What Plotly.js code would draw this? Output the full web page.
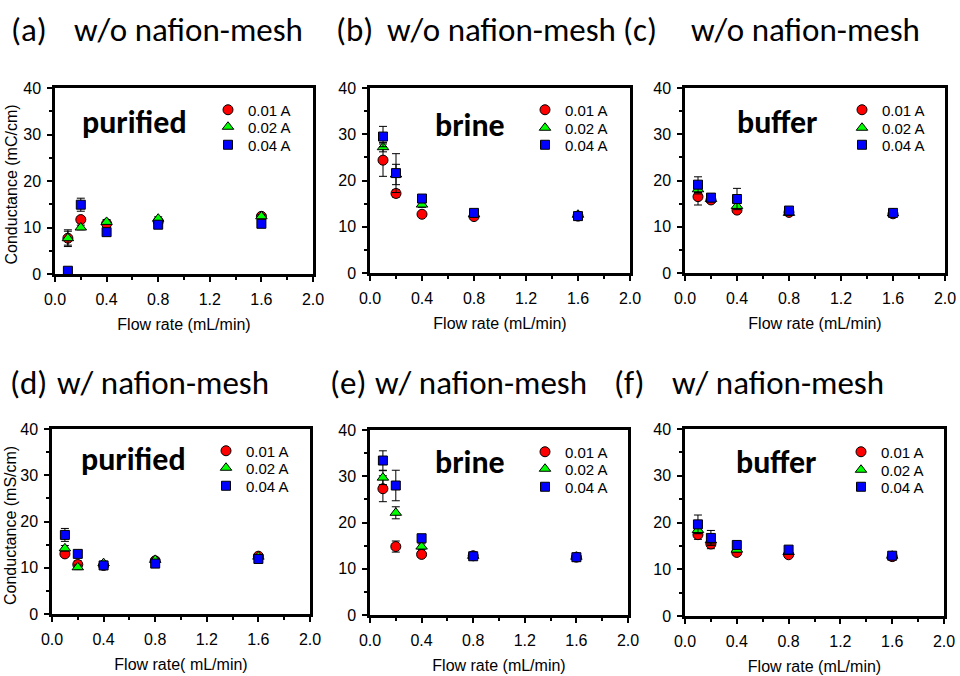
<!DOCTYPE html>
<html>
<head>
<meta charset="utf-8">
<script src="https://cdn.plot.ly/plotly-3.0.1.min.js"></script>
<style>html,body{margin:0;padding:0;background:#fff;}#chart{width:960px;height:676px;}</style>
</head>
<body>
<div id="chart"></div>
<script>
// ---- data ----
const flowRate = [0.1, 0.2, 0.4, 0.8, 1.6];
const currentLabels = ['0.01 A', '0.02 A', '0.04 A'];
const panelHeadings = ['(a)', '(b)', '(c)', '(d)', '(e)', '(f)'];
const panelConditions = ['w/o nafion-mesh', 'w/o nafion-mesh', 'w/o nafion-mesh', 'w/ nafion-mesh', 'w/ nafion-mesh', 'w/ nafion-mesh'];
const panelSolutions = ['purified', 'brine', 'buffer', 'purified', 'brine', 'buffer'];
const xTitles = ['Flow rate (mL/min)', 'Flow rate (mL/min)', 'Flow rate (mL/min)', 'Flow rate( mL/min)', 'Flow rate (mL/min)', 'Flow rate (mL/min)'];
const yTitles = ['Conductance (mC/cm)', '', '', 'Conductance (mS/cm)', '', ''];
const xTickVals = [0.0, 0.4, 0.8, 1.2, 1.6, 2.0];
const xTickText = ['0.0', '0.4', '0.8', '1.2', '1.6', '2.0'];
const yTickVals = [0, 10, 20, 30, 40];

// (a) purified, w/o mesh
const a_001 = [7.7, 11.7, 10.8, 11.3, 12.4];
const a_001_err = [1.8, 0.6, 0.5, 0.4, 0.4];
const a_002 = [7.7, 10.0, 11.2, 11.9, 12.4];
const a_002_err = [1.5, 0.5, 0.5, 0.4, 0.4];
const a_004 = [0.7, 14.9, 9.0, 10.6, 10.8];
const a_004_err = [0.3, 1.4, 0.5, 0.4, 0.4];
// (b) brine, w/o mesh
const b_001 = [24.4, 17.2, 12.7, 12.2, 12.3];
const b_001_err = [3.5, 0.8, 0.4, 0.4, 0.4];
const b_002 = [27.2, 21.3, 14.8, 12.7, 12.6];
const b_002_err = [1.0, 2.2, 0.6, 0.5, 0.4];
const b_004 = [29.5, 21.6, 16.1, 13.0, 12.3];
const b_004_err = [2.2, 4.2, 0.5, 0.6, 0.4];
// (c) buffer, w/o mesh
const c_001 = [16.5, 15.8, 13.6, 13.1, 12.8];
const c_001_err = [1.8, 0.5, 0.5, 0.4, 0.4];
const c_002 = [18.1, 16.0, 14.5, 13.0, 12.9];
const c_002_err = [1.0, 0.6, 0.6, 0.4, 0.4];
const c_004 = [19.1, 16.3, 16.0, 13.5, 13.0];
const c_004_err = [1.7, 0.8, 2.3, 0.5, 0.4];
// (d) purified, w/ mesh
const d_001 = [13.0, 10.7, 10.5, 11.5, 12.5];
const d_001_err = [0.6, 0.8, 0.5, 0.5, 0.5];
const d_002 = [14.2, 10.1, 11.0, 11.7, 12.4];
const d_002_err = [0.6, 0.5, 0.4, 0.4, 0.4];
const d_004 = [17.1, 13.0, 10.5, 10.9, 11.9];
const d_004_err = [1.4, 0.6, 0.5, 0.4, 0.4];
// (e) brine, w/ mesh
const e_001 = [27.3, 14.8, 13.1, 12.8, 12.5];
const e_001_err = [2.8, 1.2, 0.6, 0.4, 0.4];
const e_002 = [29.7, 22.1, 14.8, 12.8, 12.6];
const e_002_err = [1.5, 1.3, 0.6, 0.4, 0.4];
const e_004 = [33.4, 28.0, 16.6, 12.7, 12.5];
const e_004_err = [2.1, 3.3, 0.5, 0.5, 0.6];
// (f) buffer, w/ mesh
const f_001 = [17.4, 15.4, 13.6, 13.1, 12.7];
const f_001_err = [1.0, 1.0, 0.5, 0.4, 0.4];
const f_002 = [18.4, 16.2, 14.2, 13.7, 12.9];
const f_002_err = [0.7, 0.8, 0.5, 0.5, 0.4];
const f_004 = [19.6, 16.7, 15.2, 14.2, 12.9];
const f_004_err = [2.0, 1.6, 0.6, 0.5, 0.5];

const panelSeries = [
  [[a_001, a_001_err], [a_002, a_002_err], [a_004, a_004_err]],
  [[b_001, b_001_err], [b_002, b_002_err], [b_004, b_004_err]],
  [[c_001, c_001_err], [c_002, c_002_err], [c_004, c_004_err]],
  [[d_001, d_001_err], [d_002, d_002_err], [d_004, d_004_err]],
  [[e_001, e_001_err], [e_002, e_002_err], [e_004, e_004_err]],
  [[f_001, f_001_err], [f_002, f_002_err], [f_004, f_004_err]]
];

// ---- layout geometry (pixels) ----
const W = 960, H = 676;
const px = v => v / W;
const py = v => 1 - v / H;
const dom = [
  {x: [55, 313], y: [88, 274]},
  {x: [370, 630], y: [88, 273]},
  {x: [685, 945], y: [88, 273]},
  {x: [52, 310], y: [429, 614]},
  {x: [370, 628], y: [430, 615]},
  {x: [685, 944], y: [429, 616]}
];
const legendPos = [
  {x: 230, y: [110, 127, 145]},
  {x: 547, y: [110, 128, 145]},
  {x: 864, y: [110, 128, 145]},
  {x: 228, y: [451, 468, 486]},
  {x: 547, y: [452, 469, 487]},
  {x: 863, y: [452, 470, 487]}
];
const solutionPos = [[134, 123], [470, 125], [777, 123], [133, 459], [470, 462], [776, 462]];
const headingPos = [
  [9, 72, 30], [334, 385, 30], [621, 689, 30],
  [8, 55, 383], [328, 373, 383], [612, 670, 383]
];

const colors = ['#ff0000', '#00ff00', '#0000ff'];
const symbols = ['circle', 'triangle-up', 'square'];
const sizes = [10, 10, 9];
const AR = '"Liberation Sans", Arial, sans-serif';
const HF = 'Carlito, Lato, "Open Sans", sans-serif';

const traces = [];
const layout = {
  width: W, height: H,
  margin: {l: 0, r: 0, t: 0, b: 0},
  paper_bgcolor: '#ffffff', plot_bgcolor: '#ffffff',
  showlegend: true,
  font: {family: AR, color: '#000'},
  annotations: []
};

for (let p = 0; p < 6; p++) {
  const n = p + 1;
  const xa = n === 1 ? 'x' : 'x' + n;
  const ya = n === 1 ? 'y' : 'y' + n;
  const xKey = n === 1 ? 'xaxis' : 'xaxis' + n;
  const yKey = n === 1 ? 'yaxis' : 'yaxis' + n;
  const d = dom[p];
  for (let s = 0; s < 3; s++) {
    const legId = 'legend' + (p * 3 + s === 0 ? '' : (p * 3 + s + 1));
    traces.push({
      type: 'scatter', mode: 'markers',
      x: flowRate, y: panelSeries[p][s][0],
      name: currentLabels[s],
      xaxis: xa, yaxis: ya,
      legend: legId,
      cliponaxis: false,
      marker: {color: colors[s], symbol: symbols[s], size: sizes[s], line: {color: '#000', width: 1}},
      error_y: {type: 'data', array: panelSeries[p][s][1], visible: true, color: '#000', thickness: 1, width: 4}
    });
    layout[legId] = {
      x: px(legendPos[p].x - 22), xanchor: 'left', xref: 'paper',
      y: py(legendPos[p].y[s]), yanchor: 'middle', yref: 'paper',
      bgcolor: 'rgba(0,0,0,0)', borderwidth: 0,
      font: {family: AR, size: 15, color: '#000'}
    };
  }
  const common = {
    showgrid: false, zeroline: false, showline: true, linecolor: '#000', linewidth: 2.5,
    ticks: 'outside', ticklen: 5, tickwidth: 2, tickcolor: '#000',
    tickfont: {family: AR, size: 16, color: '#000'}
  };
  layout[xKey] = Object.assign({}, common, {
    domain: [px(d.x[0]), px(d.x[1])], anchor: ya, range: [0, 2.0],
    mirror: true,
    tickmode: 'array', tickvals: xTickVals, ticktext: xTickText,
    ticklabelstandoff: 4,
    minor: {dtick: 0.2, ticklen: 3, tickwidth: 1.5, tickcolor: '#000', ticks: 'outside'},
    title: {text: xTitles[p], font: {family: AR, size: 16, color: '#000'}, standoff: 12}
  });
  layout[yKey] = Object.assign({}, common, {
    domain: [py(d.y[1]), py(d.y[0])], anchor: xa, range: [0, 40],
    mirror: true,
    tickmode: 'array', tickvals: yTickVals,
    ticklabelstandoff: 3,
    minor: {dtick: 5, ticklen: 3, tickwidth: 1.5, tickcolor: '#000', ticks: 'outside'}
  });
  // y-axis title at the left edge of the figure
  if (yTitles[p]) {
    layout.annotations.push({
      text: yTitles[p], xref: 'paper', yref: 'paper', textangle: -90,
      x: px(0), y: py((d.y[0] + d.y[1]) / 2 + 4), xanchor: 'left', yanchor: 'middle',
      showarrow: false, font: {family: AR, size: 16, color: '#000'}
    });
  }
  // mirrored inside ticks on top and right
  const xo = 'xaxis' + (n + 6), yo = 'yaxis' + (n + 6);
  layout[xo] = {
    overlaying: xa, side: 'top', anchor: ya, range: [0, 2.0],
    showgrid: false, zeroline: false, showline: false, showticklabels: false,
    ticks: 'inside', ticklen: 5, tickwidth: 2, tickcolor: '#000',
    tickmode: 'array', tickvals: xTickVals,
    minor: {dtick: 0.2, ticklen: 3, tickwidth: 1.5, tickcolor: '#000', ticks: 'inside'}
  };
  layout[yo] = {
    overlaying: ya, side: 'right', anchor: xa, range: [0, 40],
    showgrid: false, zeroline: false, showline: false, showticklabels: false,
    ticks: 'inside', ticklen: 5, tickwidth: 2, tickcolor: '#000',
    tickmode: 'array', tickvals: yTickVals,
    minor: {dtick: 5, ticklen: 3, tickwidth: 1.5, tickcolor: '#000', ticks: 'inside'}
  };
  // solution label
  layout.annotations.push({
    text: '<b>' + panelSolutions[p] + '</b>', xref: 'paper', yref: 'paper',
    x: px(solutionPos[p][0]), y: py(solutionPos[p][1]), xanchor: 'center', yanchor: 'middle',
    showarrow: false, font: {family: HF, size: 32, color: '#000'}
  });
  // headings
  layout.annotations.push({
    text: panelHeadings[p], xref: 'paper', yref: 'paper',
    x: px(headingPos[p][0]), y: py(headingPos[p][2]), xanchor: 'left', yanchor: 'middle',
    showarrow: false, font: {family: HF, size: 33, color: '#000'}
  });
  layout.annotations.push({
    text: panelConditions[p], xref: 'paper', yref: 'paper',
    x: px(headingPos[p][1]), y: py(headingPos[p][2]), xanchor: 'left', yanchor: 'middle',
    showarrow: false, font: {family: HF, size: 33, color: '#000'}
  });
}

Plotly.newPlot('chart', traces, layout, {displayModeBar: false, responsive: false});
</script>
</body>
</html>
